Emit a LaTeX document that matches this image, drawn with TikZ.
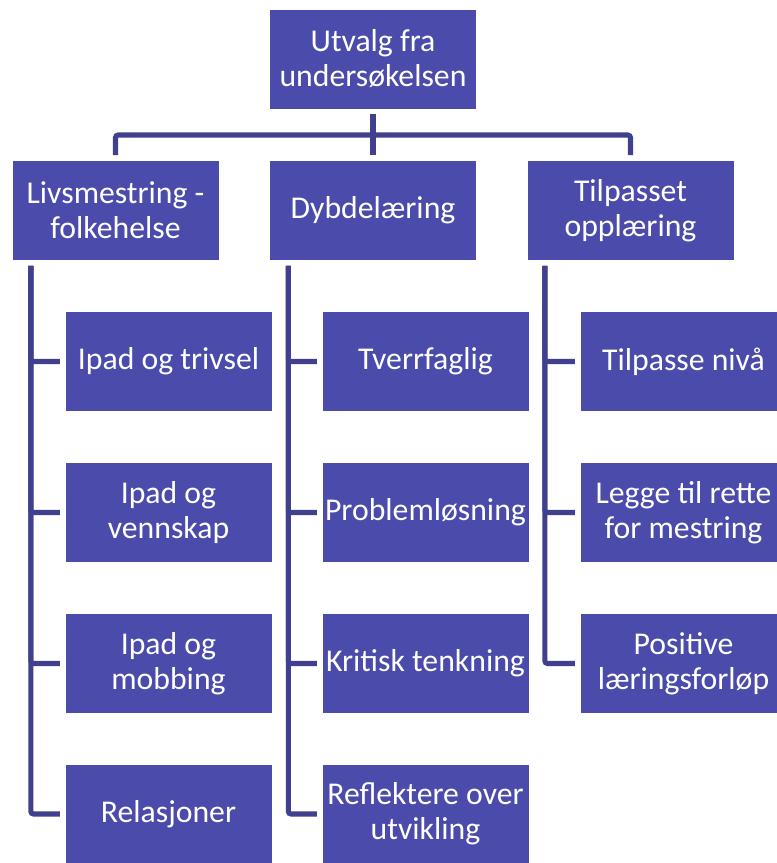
\documentclass[tikz,border=0pt]{standalone}
\usepackage{fontspec}
\setmainfont{Carlito}
\usepackage{tikz}
\usetikzlibrary{calc}
\definecolor{boxfill}{HTML}{4B4BAB}
\definecolor{linecol}{HTML}{40408F}
\tikzset{
  box/.style={fill=boxfill, draw=white, line width=0.4pt, text=white,
    minimum width=155pt, minimum height=75pt, inner sep=1pt, outer sep=4pt,
    align=center, font=\fontsize{23.8}{26.2}\selectfont},
  conn/.style={draw=linecol, line width=3.8pt, rounded corners=2pt}
}

\begin{document}
\begin{tikzpicture}[x=0.75pt,y=-0.75pt]
  \clip (0,0) rectangle (777,863);
  \fill[white] (0,0) rectangle (777,863);

  % top and second level
  \node[box] (top) at (373,59) {Utvalg fra\\undersøkelsen};
  \node[box] (livs) at (115.5,210.5) {Livsmestring -\\folkehelse};
  \node[box] (dybde) at (373,210.5) {Dybdelæring};
  \node[box] (tilp) at (630.5,210.5) {Tilpasset\\opplæring};

  \coordinate (bar) at (373,135);
  \draw[conn] (top.south) -- (dybde.north);
  \draw[conn] (livs.north) |- (bar) -| (tilp.north);

  % third level
  \node[box] (l1) at (168.5,361.5) {Ipad og trivsel};
  \node[box] (l2) at (168.5,512.5) {Ipad og\\vennskap};
  \node[box] (l3) at (168.5,663.5) {Ipad og\\mobbing};
  \node[box] (l4) at (168.5,814) {Relasjoner};

  \node[box] (d1) at (425.5,361.5) {Tverrfaglig};
  \node[box] (d2) at (425.5,512.5) {Problemløsning};
  \node[box] (d3) at (425.5,663.5) {Kritisk tenkning};
  \node[box] (d4) at (425.5,814) {Reflektere over\\utvikling};

  \node[box] (t1) at (683.5,361.5) {Tilpasse nivå};
  \node[box] (t2) at (683.5,512.5) {Legge til rette\\for mestring};
  \node[box] (t3) at (683.5,663.5) {Positive\\læringsforløp};

  \coordinate (lspine) at ($(livs.south west)+(24,0)$);
  \coordinate (dspine) at ($(dybde.south west)+(24,0)$);
  \coordinate (tspine) at ($(tilp.south west)+(23,0)$);

  \foreach \n in {l1,l2,l3,l4} \draw[conn] (lspine) |- (\n.west);
  \foreach \n in {d1,d2,d3,d4} \draw[conn] (dspine) |- (\n.west);
  \foreach \n in {t1,t2,t3} \draw[conn] (tspine) |- (\n.west);
\end{tikzpicture}
\end{document}
